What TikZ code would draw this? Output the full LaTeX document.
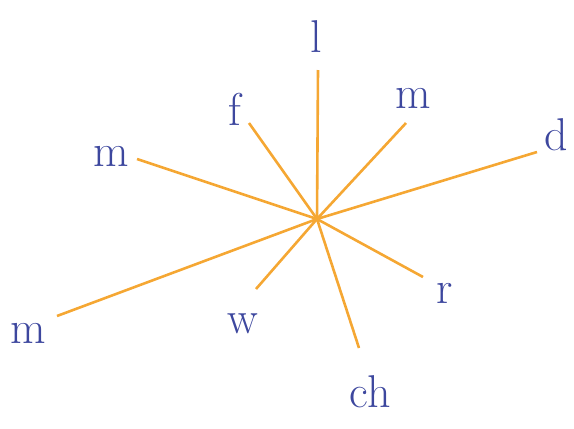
\documentclass[tikz,border=0pt]{standalone}
\usepackage{tikz}
\usepackage{xcolor}
\definecolor{spoke}{HTML}{F5A733}
\definecolor{ink}{HTML}{3D479E}

\begin{document}
\begin{tikzpicture}[
    x=1pt, y=-1pt,
    spk/.style={draw=spoke, line width=2.6pt},
    lbl/.style={text=ink, font=\fontsize{46}{50}\selectfont, anchor=base, inner sep=0pt}
]
    \useasboundingbox (0,0) rectangle (574,429);
    \coordinate (c) at (317,219);

    % free ends of the spokes
    \coordinate (eL) at (318,70);
    \coordinate (eF) at (249,123);
    \coordinate (eMr) at (406,123);
    \coordinate (eD) at (537,152);
    \coordinate (eMl) at (137,159);
    \coordinate (eMb) at (57,316);
    \coordinate (eW) at (256,289);
    \coordinate (eCh) at (359,348);
    \coordinate (eR) at (423,277);

    \node[lbl] (l) at (316,52) {l};
    \node[lbl] (f) at (235,125) {f};
    \node[lbl] (mr) at (413,108) {m};
    \node[lbl] (d) at (556,150) {d};
    \node[lbl] (ml) at (111,166) {m};
    \node[lbl] (mb) at (28,343) {m};
    \node[lbl] (w) at (243,333) {w};
    \node[lbl] (ch) at (370,407) {ch};
    \node[lbl] (r) at (445,303) {r};

    \foreach \e in {eL,eF,eMr,eD,eMl,eMb,eW,eCh,eR}
        \draw[spk] (c) -- (\e);
\end{tikzpicture}
\end{document}
